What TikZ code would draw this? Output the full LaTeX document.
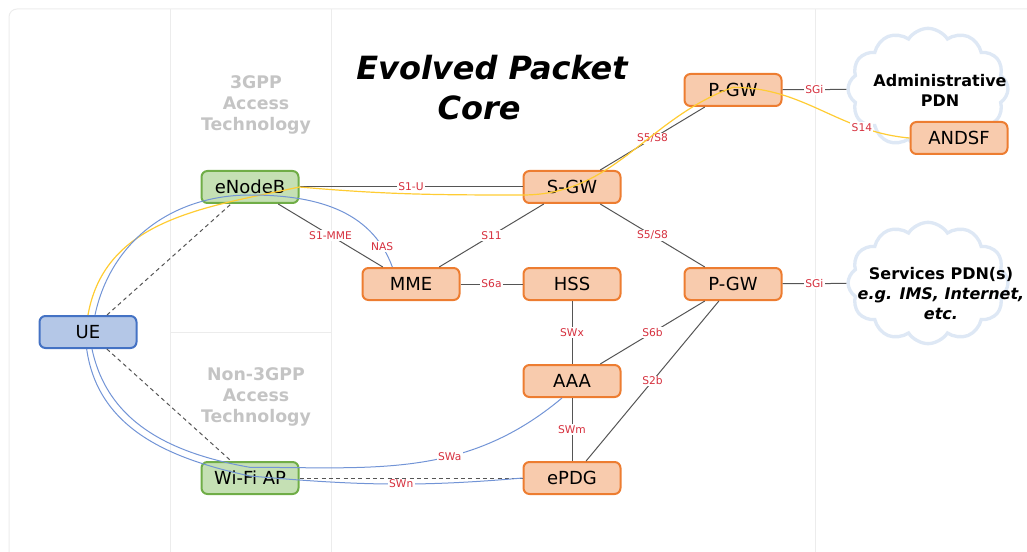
\documentclass[tikz,border=0pt]{standalone}
\usepackage{fontspec}
\setmainfont{DejaVu Sans}[ItalicFont={DejaVu Sans Oblique}, BoldItalicFont={DejaVu Sans Bold Oblique}]
\usepackage{xcolor}
\usetikzlibrary{shapes.symbols}

\definecolor{ranfill}{RGB}{197,224,180}
\definecolor{randraw}{RGB}{112,173,71}
\definecolor{epcfill}{RGB}{248,203,173}
\definecolor{epcdraw}{RGB}{237,125,49}
\definecolor{uefill}{RGB}{180,199,231}
\definecolor{uedraw}{RGB}{68,114,196}
\definecolor{ifred}{RGB}{214,48,62}
\definecolor{linkgray}{RGB}{85,85,85}
\definecolor{planeyel}{RGB}{255,204,51}
\definecolor{planeblue}{RGB}{114,148,214}
\definecolor{lanegray}{RGB}{236,236,236}
\definecolor{lanetext}{RGB}{196,196,196}
\definecolor{cloudedge}{RGB}{222,232,245}

\tikzset{
  box/.style={rectangle, rounded corners=4.5pt, minimum width=72.75pt, minimum height=24pt,
    line width=1.5pt, font=\fontsize{13.5}{16}\selectfont},
  ran/.style={box, fill=ranfill, draw=randraw},
  epc/.style={box, fill=epcfill, draw=epcdraw},
  term/.style={box, fill=uefill, draw=uedraw},
  link/.style={draw=linkgray, line width=0.75pt},
  air/.style={link, dash pattern=on 3pt off 2.5pt},
  ifc/.style={fill=white, text=ifred, inner sep=1pt, font=\fontsize{8}{8}\selectfont},
  uplane/.style={draw=planeyel, line width=0.9pt},
  cplane/.style={draw=planeblue, line width=0.75pt},
  pdn/.style={cloud, cloud puffs=12, cloud puff arc=115, minimum width=120pt, minimum height=91pt,
    fill=white, draw=cloudedge, line width=2.5pt},
  lane/.style={text=lanetext, font=\bfseries\fontsize{13}{16}\selectfont, align=center},
  pdntext/.style={font=\bfseries\fontsize{12}{15}\selectfont, align=center},
}

\begin{document}
\begin{tikzpicture}[x=0.75pt, y=-0.75pt]
  \useasboundingbox (0,0) rectangle (1027,552);
  % lanes
  \draw[lanegray, line width=0.75pt, rounded corners=6pt] (9,9) rectangle (1045,575);
  \draw[lanegray, line width=0.75pt] (170,9) -- (170,552) (331,9) -- (331,552)
    (815,9) -- (815,552) (170,332) -- (331,332);

  \node[font=\bfseries\itshape\fontsize{24}{30}\selectfont, align=center] (title) at (492,88)
    {Evolved Packet\\Core\hspace*{19.5pt}};
  \node[lane] (lane3gpp) at (256,105) {3GPP\\Access\\Technology};
  \node[lane] (lanenon) at (256,397) {Non-3GPP\\Access\\Technology};

  \node[term] (UE) at (88,332) {UE};
  \node[ran] (eNB) at (250,187) {eNodeB};
  \node[ran] (WiFi) at (250,478) {Wi-Fi AP};
  \node[epc] (SGW) at (572,187) {S-GW};
  \node[epc] (MME) at (411,284) {MME};
  \node[epc] (HSS) at (572,284) {HSS};
  \node[epc] (AAA) at (572,381) {AAA};
  \node[epc] (ePDG) at (572,478) {ePDG};
  \node[epc] (PGWa) at (733,90) {P-GW};
  \node[epc] (PGWb) at (733,284) {P-GW};
  \node[pdn] (PDNa) at (928,89) {};
  \node[pdn] (PDNb) at (928,283) {};
  \node[pdntext] (PDNaTxt) at (940,90) {Administrative\\PDN};
  \node[pdntext] (PDNbTxt) at (941,294) {Services PDN(s)\\\textit{e.g. IMS, Internet,}\\\textit{etc.}};
  \node[epc] (ANDSF) at (959,138) {ANDSF};

  \draw[air] (UE) -- (eNB);
  \draw[air] (UE) -- (WiFi);
  \draw[air] (WiFi) -- (ePDG);
  \draw[link] (eNB) -- (SGW) node[midway, ifc] {S1-U};
  \draw[link] (eNB) -- (MME) node[midway, ifc] {S1-MME};
  \draw[link] (SGW) -- (MME) node[midway, ifc] {S11};
  \draw[link] (MME) -- (HSS) node[midway, ifc] {S6a};
  \draw[link] (SGW) -- (PGWa) node[midway, ifc] {S5/S8};
  \draw[link] (SGW) -- (PGWb) node[midway, ifc] {S5/S8};
  \draw[link] (HSS) -- (AAA) node[midway, ifc] {SWx};
  \draw[link] (AAA) -- (PGWb) node[midway, ifc] {S6b};
  \draw[link] (ePDG) -- (PGWb) node[midway, ifc] {S2b};
  \draw[link] (AAA) -- (ePDG) node[midway, ifc] {SWm};
  \draw[link] (PGWa) -- (PDNa) node[midway, ifc] {SGi};
  \draw[link] (PGWb) -- (PDNb) node[midway, ifc] {SGi};

  % user plane and signalling paths
  \draw[uplane] (UE.north) to[out=80,in=192] (eNB.east) to[out=-5,in=180] ([yshift=-6pt]SGW.west)
    to[out=0,in=200] ([yshift=2pt]PGWa.center) to[out=0,in=175] node[pos=0.75, ifc] {S14} (ANDSF.west);
  \draw[cplane] ([xshift=5.25pt]UE.north) to[out=78,in=180] ([yshift=-6pt]eNB.center)
    to[out=0,in=110] node[pos=0.87, ifc] {NAS} ([xshift=-14pt]MME.north);
  \draw[cplane] ([xshift=3pt]UE.south) to[out=-78,in=170] ([yshift=8pt]WiFi.center)
    to[out=0,in=-140] node[pos=0.61, ifc] {SWa} ([xshift=-7.5pt]AAA.south);
  \draw[cplane] ([xshift=-1pt]UE.south) to[out=-82,in=168] ([yshift=1.5pt]WiFi.center)
    to[out=-5,in=185] node[pos=0.56, ifc] {SWn} (ePDG.west);
\end{tikzpicture}
\end{document}
